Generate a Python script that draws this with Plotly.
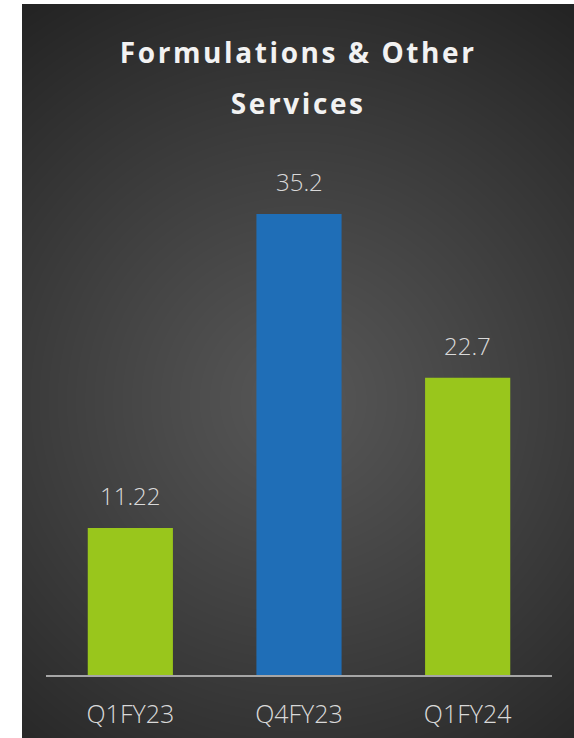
import base64, struct, zlib
import numpy as np
import plotly.graph_objects as go

# ---- data ----
categories = ["Q1FY23", "Q4FY23", "Q1FY24"]
values = [11.22, 35.2, 22.7]
value_labels = ["11.22", "35.2", "22.7"]
bar_colors = ["#99c61c", "#1f6eb7", "#99c61c"]
title_line1 = "Formulations & Other"
title_line2 = "Services"

W, H = 574, 738

# ---- radial gradient background image (pure python PNG) ----
bw, bh = 580, 760
cx, cy = 276, 396
yy, xx = np.mgrid[0:bh, 0:bw]
r = np.sqrt((xx - cx) ** 2 + (yy - cy) ** 2) / np.sqrt(276 ** 2 + 400 ** 2)
r = np.clip(r, 0, 1)
val = 87 - (87 - 35) * r ** 1.1
img = np.clip(val, 0, 255).astype(np.uint8)
rgb = np.stack([img, img, img], axis=-1)
raw = b"".join(b"\x00" + rgb[i].tobytes() for i in range(bh))

def chunk(t, d):
    c = struct.pack(">I", len(d)) + t + d
    return c + struct.pack(">I", zlib.crc32(t + d) & 0xffffffff)

png = b"\x89PNG\r\n\x1a\n" + chunk(b"IHDR", struct.pack(">IIBBBBB", bw, bh, 8, 2, 0, 0, 0)) \
    + chunk(b"IDAT", zlib.compress(raw, 9)) + chunk(b"IEND", b"")
bg_uri = "data:image/png;base64," + base64.b64encode(png).decode()

fig = go.Figure()
fig.add_trace(go.Bar(
    x=categories, y=values, marker=dict(color=bar_colors, line=dict(width=0)),
    width=0.505, hoverinfo="skip",
))

for c, v, t in zip(categories, values, value_labels):
    fig.add_annotation(x=c, y=v, text=t, showarrow=False, yanchor="bottom", yshift=14,
                       font=dict(family="Open Sans", size=24, color="#d9d9d9", weight=300))

span = "<span style='font-size:28px;letter-spacing:2.6px'>%s</span>"
fig.update_layout(
    width=W, height=H,
    paper_bgcolor="white", plot_bgcolor="rgba(0,0,0,0)",
    margin=dict(l=46, r=22, t=151, b=63),
    showlegend=False,
    title=dict(text=(span % title_line1) + "<br>" + (span % title_line2),
               x=0.5195, xanchor="center", y=1 - 63 / H, yanchor="top",
               font=dict(family="Open Sans", size=39, color="#f2f2f2", weight="bold")),
    images=[dict(source=bg_uri, xref="paper", yref="paper", x=-24 / 506, y=1 + 147 / 524,
                 sizex=bw / 506, sizey=bh / 524, xanchor="left", yanchor="top",
                 sizing="stretch", layer="below")],
    xaxis=dict(showline=True, linecolor="#a6a6a6", linewidth=2, showgrid=False, zeroline=False,
               ticks="outside", ticklen=16, tickcolor="rgba(0,0,0,0)", automargin=False,
               tickfont=dict(family="Open Sans", size=25, color="#d9d9d9", weight=300),
               range=[-0.5, 2.5]),
    yaxis=dict(visible=False, range=[0, 40], showgrid=False, zeroline=False, automargin=False),
)

fig.write_html("out.html")
